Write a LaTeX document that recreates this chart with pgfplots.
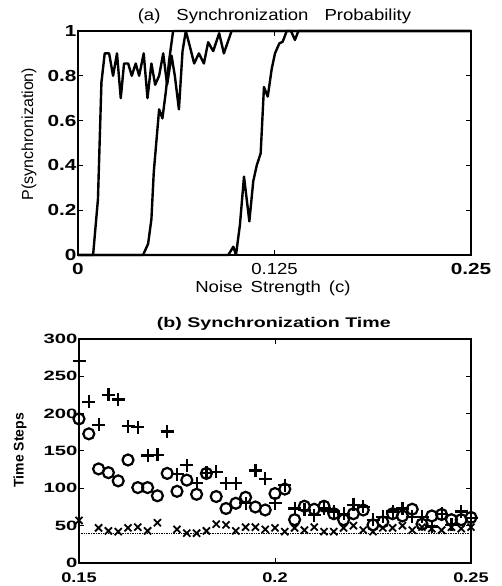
\documentclass[border=0pt]{standalone}
\usepackage{fontspec}
\setmainfont{Liberation Sans}
\newfontfamily\regA{Liberation Sans}[FakeStretch=1.16]
\newfontfamily\bstA{Liberation Sans}[FakeStretch=1.3]
\newfontfamily\bstB{Liberation Sans}[FakeStretch=1.5]
\newfontfamily\bstC{Liberation Sans}[FakeStretch=1.3]
\newfontfamily\bstT{Liberation Sans}[FakeStretch=1.4]
\usepackage{pgfplots}
\pgfplotsset{compat=1.18}
\begin{document}
\begin{tikzpicture}
\path[use as bounding box] (0,0) rectangle (501pt,586pt);
% ---------- (a) ----------
\begin{axis}[
  at={(78pt,331pt)}, anchor=south west,
  scale only axis, width=393pt, height=224pt,
  xmin=0, xmax=0.25, ymin=0, ymax=1,
  clip=false,
  axis line style={line width=2pt},
  tick align=inside, major tick length=5pt,
  every tick/.style={black, line width=1pt},
  xtick={0,0.125,0.25},
  xticklabels={{\bstA\bfseries 0},{\regA 0.125},{\bstA\bfseries 0.25}},
  xticklabel style={anchor=center, yshift=-14pt, font=\fontsize{16}{16}\selectfont},
  ytick={0,0.2,0.4,0.6,0.8,1},
  yticklabels={0,0.2,0.4,0.6,0.8,1},
  yticklabel style={font=\bstA\bfseries\fontsize{16}{16}\selectfont, xshift=2pt},
  title={(a)\quad Synchronization\quad Probability},
  title style={at={(axis description cs:0.5,1.04)}, anchor=center, font=\regA\fontsize{16}{16}\selectfont},
  xlabel={Noise\enspace Strength\enspace (c)},
  xlabel style={at={(axis description cs:0.496,-0.147)}, anchor=center, font=\regA\fontsize{16}{16}\selectfont},
  ylabel={P(synchronization)},
  ylabel style={at={(axis description cs:-0.1247,0.540)}, anchor=center, font=\fontsize{16}{16}\selectfont},
]
\addplot[black, line width=2.4pt, line join=round] coordinates {
(0,0) (0.0096,0) (0.0127,0.25) (0.0149,0.77) (0.017,0.9) (0.0198,0.9) (0.0223,0.8) (0.0248,0.9) (0.0272,0.7) (0.0293,0.855) (0.0319,0.855) (0.0342,0.8) (0.0367,0.855) (0.0389,0.8) (0.0418,0.9) (0.0442,0.7) (0.0467,0.855) (0.0491,0.76) (0.0516,0.8) (0.0542,0.9) (0.0567,0.76) (0.0595,0.89) (0.0616,0.8) (0.0642,0.65) (0.0665,0.91) (0.0686,1) (0.0712,0.93) (0.0739,0.855) (0.0769,0.9) (0.0801,0.855) (0.0828,0.95) (0.086,0.91) (0.0898,0.99) (0.0928,0.9) (0.0977,1) (0.25,1)};
\addplot[black, line width=2.4pt, line join=round] coordinates {
(0,0) (0.0414,0) (0.0446,0.05) (0.0467,0.16) (0.0482,0.37) (0.0499,0.51) (0.0516,0.65) (0.0537,0.61) (0.0559,0.73) (0.058,0.87) (0.0605,1) (0.25,1)};
\addplot[black, line width=2.4pt, line join=round] coordinates {
(0,0) (0.0956,0) (0.0988,0.037) (0.1005,0) (0.103,0.134) (0.1056,0.35) (0.109,0.15) (0.1115,0.33) (0.1137,0.40) (0.1162,0.454) (0.1183,0.75) (0.1207,0.707) (0.1232,0.83) (0.1253,0.9) (0.1281,0.945) (0.1302,0.952) (0.1328,1) (0.1355,1) (0.138,0.96) (0.1402,1) (0.25,1)};
\end{axis}
% ---------- (b) ----------
\begin{axis}[
  at={(79pt,23pt)}, anchor=south west,
  scale only axis, width=392pt, height=224pt,
  xmin=0.15, xmax=0.25, ymin=0, ymax=300,
  clip=false,
  axis line style={line width=2pt},
  tick align=inside, major tick length=5pt,
  every tick/.style={black, line width=1pt},
  xtick={0.15,0.2,0.25},
  xticklabels={0.15,0.2,0.25},
  xticklabel style={anchor=center, yshift=-15pt, font=\bstC\bfseries\fontsize{14}{14}\selectfont},
  ytick={0,50,100,150,200,250,300},
  yticklabels={0,50,100,150,200,250,300},
  yticklabel style={font=\bstB\bfseries\fontsize{13.5}{13.5}\selectfont, xshift=2pt},
  title={(b) Synchronization Time},
  title style={at={(axis description cs:0.497,1.04)}, anchor=center, font=\bstT\bfseries\fontsize{14}{14}\selectfont},
  ylabel={Time Steps},
  ylabel style={at={(axis description cs:-0.1505,0.504)}, anchor=center, font=\bfseries\fontsize{14}{14}\selectfont},
]
\addplot[black, densely dotted, line width=0.7pt] coordinates {(0.15,40) (0.25,40)};
% x markers
\addplot[black, only marks, mark=x, mark size=5pt, mark options={line width=1.8pt}] coordinates {
(0.15,57) (0.155,47) (0.1575,43) (0.16,42) (0.1625,47) (0.165,48) (0.1675,43) (0.17,54) (0.175,45) (0.1775,40) (0.18,40) (0.1825,43) (0.185,52) (0.1875,51) (0.19,43) (0.1925,48) (0.195,48) (0.1975,45) (0.2,47) (0.2025,42) (0.205,47) (0.2075,44) (0.21,48) (0.2125,42) (0.215,42) (0.2175,47) (0.22,50) (0.2225,44) (0.225,42) (0.2275,47) (0.23,47) (0.2325,50) (0.235,44) (0.2375,48) (0.24,46) (0.2425,44) (0.245,48) (0.2475,46) (0.25,48)};
% plus markers
\addplot[black, only marks, mark=+, mark size=6.5pt, mark options={line width=2.2pt}] coordinates {
(0.15,270) (0.1525,216) (0.155,185) (0.1575,225) (0.16,219) (0.1625,183) (0.165,182) (0.1675,144) (0.17,145) (0.1725,176) (0.175,119) (0.1775,131) (0.18,107) (0.1825,121) (0.185,122) (0.1875,107) (0.19,107) (0.1925,80) (0.195,124) (0.1975,113) (0.2,80) (0.2025,104) (0.205,73) (0.2075,71) (0.21,64) (0.2125,73) (0.215,69) (0.2175,66) (0.22,78) (0.2225,75) (0.225,58) (0.2275,62) (0.23,69) (0.2325,73) (0.235,62) (0.2375,62) (0.24,49) (0.2425,66) (0.245,51) (0.2475,69) (0.25,60)};
% circle markers
\addplot[black, only marks, mark=o, mark size=5.5pt, mark options={line width=2.2pt}] coordinates {
(0.15,193) (0.1525,173) (0.155,126) (0.1575,121) (0.16,110) (0.1625,138) (0.165,101) (0.1675,101) (0.17,90) (0.1725,120) (0.175,96) (0.1775,111) (0.18,92) (0.1825,120) (0.185,89) (0.1875,73) (0.19,80) (0.1925,88) (0.195,75) (0.1975,71) (0.2,93) (0.2025,99) (0.205,58) (0.2075,76) (0.21,72) (0.2125,76) (0.215,66) (0.2175,58) (0.22,66) (0.2225,71) (0.225,51) (0.2275,55) (0.23,66) (0.2325,63) (0.235,72) (0.2375,52) (0.24,63) (0.2425,65) (0.245,58) (0.2475,58) (0.25,61)};
\end{axis}
\end{tikzpicture}
\end{document}
